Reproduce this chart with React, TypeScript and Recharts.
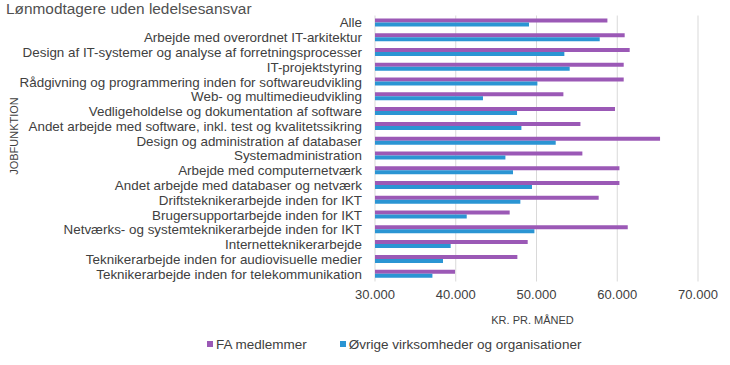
import { Bar, BarChart, CartesianGrid, Label, XAxis, YAxis } from "recharts";

const jobs = [
  "Alle",
  "Arbejde med overordnet IT-arkitektur",
  "Design af IT-systemer og analyse af forretningsprocesser",
  "IT-projektstyring",
  "Rådgivning og programmering inden for softwareudvikling",
  "Web- og multimedieudvikling",
  "Vedligeholdelse og dokumentation af software",
  "Andet arbejde med software, inkl. test og kvalitetssikring",
  "Design og administration af databaser",
  "Systemadministration",
  "Arbejde med computernetværk",
  "Andet arbejde med databaser og netværk",
  "Driftsteknikerarbejde inden for IKT",
  "Brugersupportarbejde inden for IKT",
  "Netværks- og systemteknikerarbejde inden for IKT",
  "Internetteknikerarbejde",
  "Teknikerarbejde inden for audiovisuelle medier",
  "Teknikerarbejde inden for telekommunikation",
];

const faMembers = [
  58780, 60920, 61540, 60800, 60800, 53330, 59720, 55440, 65300, 55680, 60270, 60270, 57700, 46680,
  61300, 48910, 47630, 39910,
];

const others = [
  49070, 57830, 53450, 54110, 50110, 43370, 47590, 48130, 52380, 46150, 47090, 49440, 48000, 41360,
  49740, 39370, 38420, 37110,
];

const xTicks = [30000, 40000, 50000, 60000, 70000];

const PURPLE = "#9b59b6";
const BLUE = "#2b95d3";
const TEXT = "#404040";
const FONT = "'Liberation Sans', Arial, sans-serif";

const data = jobs.map((job, i) => ({ job, fa: faMembers[i], other: others[i] }));

const fmt = (v: number) => v.toLocaleString("da-DK");

function JobTick({ x, y, payload }: any) {
  return (
    <text x={x - 5} y={y} dy={4.5} textAnchor="end" fontSize={13.4} fill={TEXT} fontFamily={FONT}>
      {payload.value}
    </text>
  );
}

function LegendBox() {
  const item = (color: string, text: string, gap: number) => (
    <span style={{ display: "inline-flex", alignItems: "center", marginRight: gap }}>
      <span style={{ width: 6, height: 6, background: color, marginRight: 3 }} />
      {text}
    </span>
  );
  return (
    <div
      style={{
        position: "absolute",
        top: 335,
        left: 207,
        fontFamily: FONT,
        fontSize: 13.5,
        color: TEXT,
        whiteSpace: "nowrap",
      }}
    >
      {item(PURPLE, "FA medlemmer", 33)}
      {item(BLUE, "Øvrige virksomheder og organisationer", 0)}
    </div>
  );
}

export default function App() {
  return (
    <div style={{ position: "absolute", left: 0, top: 0, width: 730, height: 365, background: "#fff" }}>
      <div
        style={{ position: "absolute", left: 6, top: 0, fontFamily: FONT, fontSize: 15.4, lineHeight: "17px", color: "#505050" }}
      >
        Lønmodtagere uden ledelsesansvar
      </div>
      <div
        style={{
          position: "absolute",
          left: 14,
          top: 136,
          transform: "translate(-50%, -50%) rotate(-90deg)",
          fontFamily: FONT,
          fontSize: 11,
          color: TEXT,
          whiteSpace: "nowrap",
        }}
      >
        JOBFUNKTION
      </div>
      <BarChart
        width={730}
        height={365}
        data={data}
        layout="vertical"
        margin={{ top: 15.5, right: 32, bottom: 53.5, left: 0 }}
        barCategoryGap="20%"
        barGap={0}
      >
        <CartesianGrid horizontal={false} stroke="#d9d9d9" />
        <XAxis
          type="number"
          domain={[30000, 70000]}
          ticks={xTicks}
          tickFormatter={fmt}
          axisLine={false}
          tickLine={false}
          tick={{ fontSize: 13, fill: TEXT, fontFamily: FONT }}
          height={30}
        >
          <Label value="KR. PR. MÅNED" position="bottom" offset={5} dx={-4} fontSize={11} fill={TEXT} fontFamily={FONT} />
        </XAxis>
        <YAxis type="category" dataKey="job" width={375} axisLine={false} tickLine={false} tick={<JobTick />} interval={0} />
        <Bar dataKey="fa" name="FA medlemmer" fill={PURPLE} isAnimationActive={false} />
        <Bar dataKey="other" name="Øvrige virksomheder og organisationer" fill={BLUE} isAnimationActive={false} />
      </BarChart>
      <LegendBox />
    </div>
  );
}
